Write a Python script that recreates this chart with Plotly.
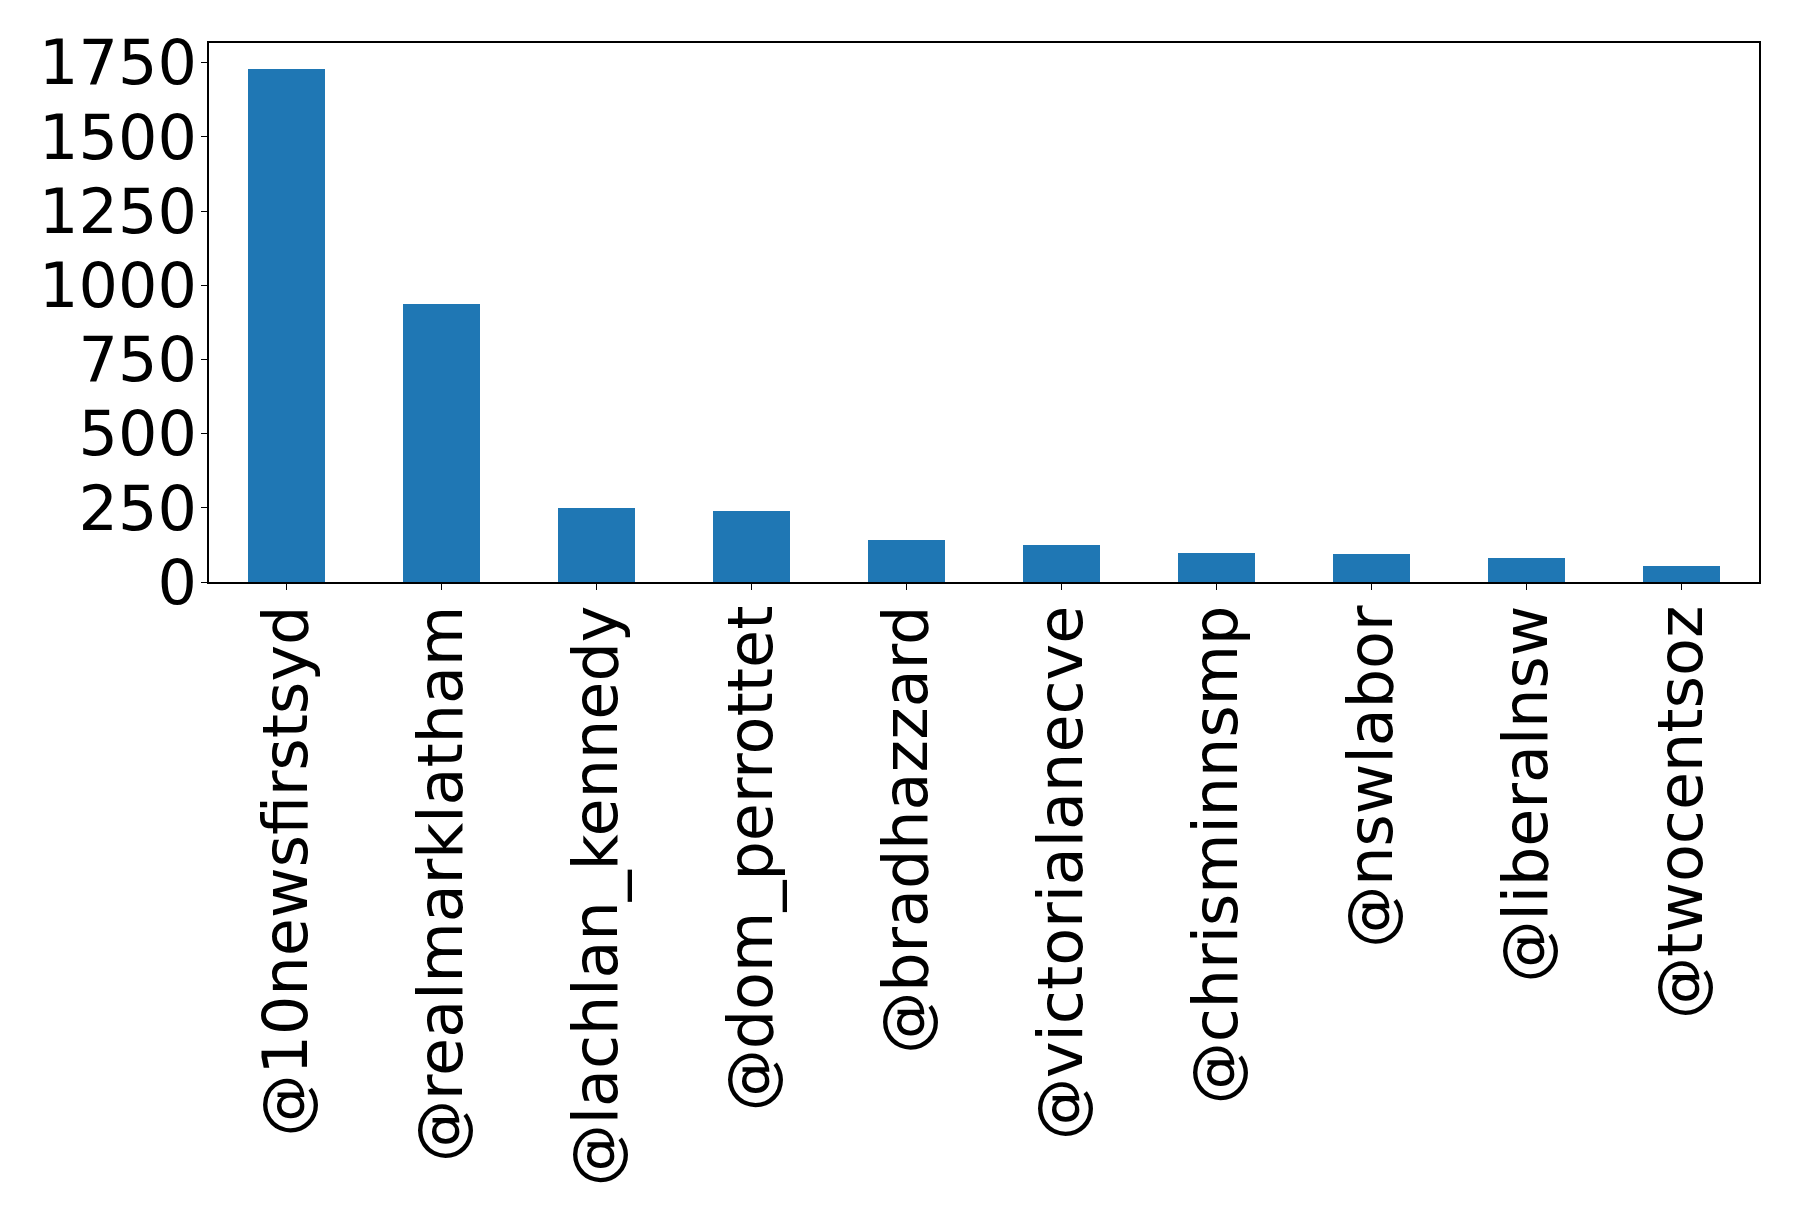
import plotly.graph_objects as go

# accounts and their counts
accounts = ['@10newsfirstsyd', '@realmarklatham', '@lachlan_kennedy', '@dom_perrottet',
            '@bradhazzard', '@victorialanecve', '@chrisminnsmp', '@nswlabor',
            '@liberalnsw', '@twocentsoz']
counts = [1730, 937, 249, 239, 141, 124, 98, 94, 81, 54]
y_ticks = [0, 250, 500, 750, 1000, 1250, 1500, 1750]

fig = go.Figure(go.Bar(x=accounts, y=counts, width=0.5, marker_color='#1f77b4',
                       marker_line_width=0))

axis_font = dict(family='DejaVu Sans', size=62, color='black')

# the page body adds an 8px offset, margins are corrected for it
fig.update_layout(
    width=1798, height=1217,
    margin=dict(l=201, r=47, t=35, b=643),
    plot_bgcolor='white', paper_bgcolor='white',
    showlegend=False,
    bargap=0,
)
fig.update_xaxes(range=[-0.5, 9.5], tickangle=-90, tickfont=axis_font,
                 showline=True, linecolor='black', linewidth=1.5, mirror=True,
                 ticks='outside', ticklen=6, tickcolor='black', showgrid=False,
                 ticklabelstandoff=-9)
fig.update_yaxes(range=[0, 1816.5], tickvals=y_ticks, tickfont=axis_font,
                 showline=True, linecolor='black', linewidth=1.5, mirror=True,
                 ticks='outside', ticklen=6, tickcolor='black', showgrid=False,
                 zeroline=False, ticklabelstandoff=-8)

fig.write_html("out.html")
